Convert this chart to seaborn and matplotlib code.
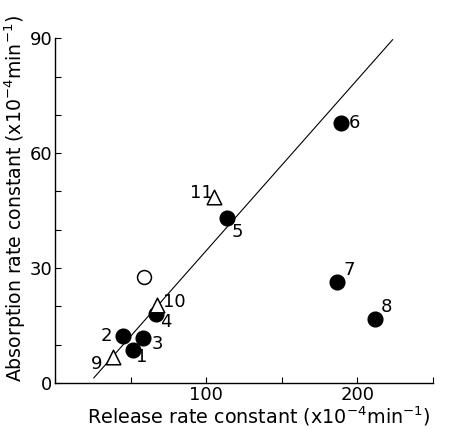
"""Absorption vs release rate constants scatter with regression line."""

import matplotlib
matplotlib.use("Agg")
import matplotlib.pyplot as plt
import numpy as np
import pandas as pd
import seaborn as sns

# values
point_ids = ["1", "2", "3", "4", "5", "6", "7", "8", "9", "10", "11", ""]
release = [51.2, 44.6, 57.9, 66.8, 113.9, 189.0, 186.5, 211.4, 38.1, 67.5, 105.3, 58.7]
absorption = [8.6, 12.3, 11.7, 18.0, 43.0, 67.9, 26.4, 16.7, 6.8, 20.4, 48.6, 27.7]
kind = ["filled"] * 8 + ["triangle"] * 3 + ["open"]
label_offsets = {
    "1": (9, -7), "2": (-16, 0), "3": (15, -6), "4": (10, -8), "5": (10, -14),
    "6": (14, 0), "7": (12, 12), "8": (12, 12), "9": (-16, -7), "10": (17, 3),
    "11": (-13, 4),
}
fit_x = [25.4, 223.4]
fit_slope = 0.446
fit_intercept = -10.0


def main() -> None:
    sns.set_style("ticks")
    plt.rcParams["font.family"] = ["DejaVu Sans"]
    for key in ["text.color", "axes.labelcolor", "xtick.color", "ytick.color", "axes.edgecolor"]:
        plt.rcParams[key] = "black"
    df = pd.DataFrame({"release": release, "absorption": absorption, "kind": kind, "id": point_ids})

    fig = plt.figure(figsize=(4.5, 4.29), dpi=100)
    ax = fig.add_axes([0.123, 0.107, 0.839, 0.804])

    line = pd.DataFrame({"x": fit_x})
    line["y"] = fit_slope * line["x"] + fit_intercept
    sns.lineplot(data=line, x="x", y="y", ax=ax, color="black", linewidth=0.8)

    styles = {
        "filled": dict(marker="o", facecolor="black", s=110),
        "open": dict(marker="o", facecolor="white", s=100),
        "triangle": dict(marker="^", facecolor="white", s=110),
    }
    for k, st in styles.items():
        sub = df[df["kind"] == k]
        sns.scatterplot(data=sub, x="release", y="absorption", ax=ax, marker=st["marker"],
                        s=st["s"], facecolor=st["facecolor"], edgecolor="black",
                        linewidth=1.1, zorder=3)

    for _, row in df.iterrows():
        if row["id"]:
            dx, dy = label_offsets[row["id"]]
            ax.annotate(row["id"], (row["release"], row["absorption"]), xytext=(dx, dy),
                        textcoords="offset pixels", ha="center", va="center", fontsize=13)

    ax.set_xlim(0, 250)
    ax.set_ylim(0, 90)
    ax.set_xticks(np.arange(0, 251, 50))
    ax.set_xticklabels(["", "", "100", "", "200", ""])
    ax.set_yticks(np.arange(0, 91, 10))
    ax.set_yticklabels(["0", "", "", "30", "", "", "60", "", "", "90"])
    ax.tick_params(direction="in", length=4, width=0.8, labelsize=13, pad=2)
    sns.despine(ax=ax)
    for sp in ax.spines.values():
        sp.set_linewidth(1.0)
    ax.set_xlabel("Release rate constant (x10$^{-4}$min$^{-1}$)", fontsize=13.8)
    ax.xaxis.set_label_coords(0.54, -0.062)
    ax.set_ylabel("Absorption rate constant (x10$^{-4}$min$^{-1}$)", fontsize=13.6)
    ax.yaxis.set_label_coords(-0.072, 0.535)

    fig.savefig("out.png", dpi=100)
    plt.close(fig)


if __name__ == "__main__":
    main()
